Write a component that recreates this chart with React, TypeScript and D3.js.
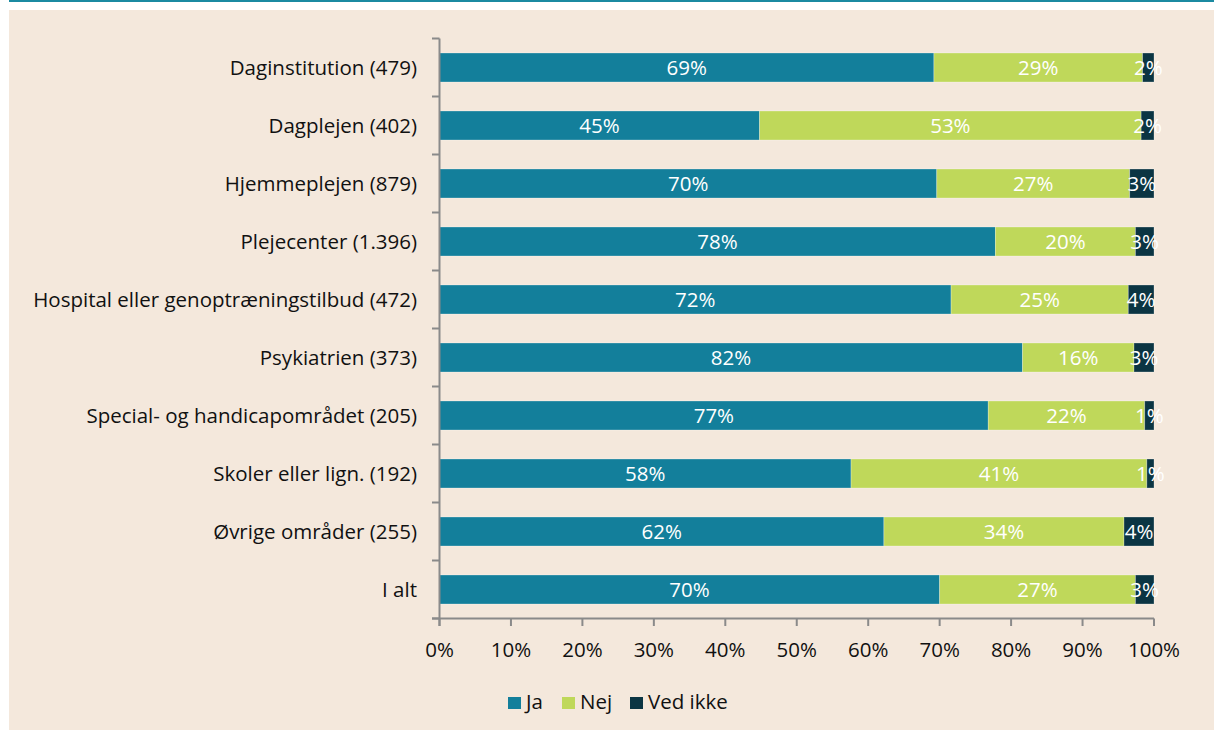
import React from "react";
import * as d3 from "d3";

const categories = [
  "Daginstitution (479)",
  "Dagplejen (402)",
  "Hjemmeplejen (879)",
  "Plejecenter (1.396)",
  "Hospital eller genoptræningstilbud (472)",
  "Psykiatrien (373)",
  "Special- og handicapområdet (205)",
  "Skoler eller lign. (192)",
  "Øvrige områder (255)",
  "I alt",
];
const ja = [69.2, 44.8, 69.6, 77.8, 71.6, 81.6, 76.8, 57.6, 62.2, 70.0];
const nej = [29.2, 53.4, 27.0, 19.6, 24.8, 15.6, 21.9, 41.4, 33.6, 27.4];
const vedIkke = [1.6, 1.8, 3.4, 2.6, 3.6, 2.8, 1.3, 1.0, 4.2, 2.6];
const seriesNames = ["Ja", "Nej", "Ved ikke"];
const seriesColors = ["#137f9b", "#bfd85a", "#0b3543"];
const xTicks = [0, 10, 20, 30, 40, 50, 60, 70, 80, 90, 100];

const W = 1214;
const H = 730;
const FONT = "'Open Sans', 'Noto Sans', sans-serif";
const FS = 20.5;

export default function App() {
  const x = d3.scaleLinear().domain([0, 100]).range([439.5, 1154]);
  const y = d3.scaleBand<string>().domain(categories).range([38.5, 618.5]).paddingInner(0.5).paddingOuter(0.25);
  const band = (618.5 - 38.5) / categories.length;
  const rows = categories.map((c, i) => ({ c, vals: [ja[i], nej[i], vedIkke[i]] }));
  const legendX = [508, 562, 630];

  return (
    <svg width={W} height={H} style={{ position: "absolute", left: 0, top: 0 }}>
      <rect x={0} y={0} width={W} height={H} fill="#ffffff" />
      <rect x={9} y={0} width={W - 9} height={2} fill="#1b8aa1" />
      <rect x={9} y={10} width={W - 9} height={H - 10} fill="#f4e8dc" />
      {rows.map((r, i) => {
        let acc = 0;
        const yy = y(r.c)!;
        return (
          <g key={r.c}>
            {r.vals.map((v, k) => {
              const x0 = x(acc);
              acc += v;
              const x1 = x(acc);
              return (
                <g key={k}>
                  <rect x={x0} y={yy} width={x1 - x0} height={y.bandwidth()} fill={seriesColors[k]} stroke="#ffffff" strokeOpacity={0.35} strokeWidth={0.8} />
                  <text x={(x0 + x1) / 2} y={yy + y.bandwidth() / 2} dy="0.35em" textAnchor="middle" fill="#ffffff" fontFamily={FONT} fontSize={FS}>
                    {Math.round(v)}%
                  </text>
                </g>
              );
            })}
            <text x={417} y={yy + y.bandwidth() / 2} dy="0.35em" textAnchor="end" fill="#111" fontFamily={FONT} fontSize={FS}>
              {r.c}
            </text>
          </g>
        );
      })}
      {/* y axis */}
      <line x1={439.5} x2={439.5} y1={38.5} y2={626} stroke="#8a8a8a" strokeWidth={2} />
      {d3.range(categories.length + 1).map((i) => (
        <line key={i} x1={432} x2={439.5} y1={38.5 + i * band} y2={38.5 + i * band} stroke="#8a8a8a" strokeWidth={2} />
      ))}
      {/* x axis */}
      <line x1={432} x2={1154} y1={618.5} y2={618.5} stroke="#8a8a8a" strokeWidth={2} />
      {xTicks.map((t) => (
        <g key={t}>
          <line x1={x(t)} x2={x(t)} y1={618.5} y2={626} stroke="#8a8a8a" strokeWidth={2} />
          <text x={x(t)} y={650} dy="0.35em" textAnchor="middle" fill="#111" fontFamily={FONT} fontSize={FS}>
            {t}%
          </text>
        </g>
      ))}
      {/* legend */}
      {seriesNames.map((n, k) => (
        <g key={n}>
          <rect x={legendX[k]} y={697} width={13} height={12} fill={seriesColors[k]} />
          <text x={legendX[k] + 18} y={702} dy="0.35em" fill="#111" fontFamily={FONT} fontSize={FS}>
            {n}
          </text>
        </g>
      ))}
    </svg>
  );
}
